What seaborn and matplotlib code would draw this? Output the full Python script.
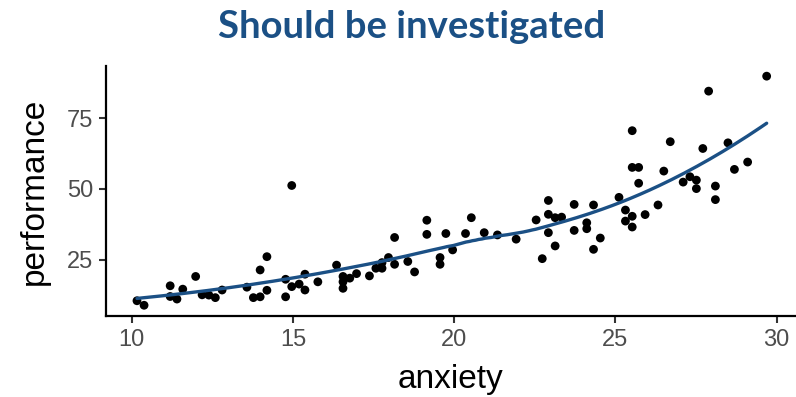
import numpy as np
import pandas as pd
import matplotlib
matplotlib.use("Agg")
import matplotlib.pyplot as plt
import seaborn as sns

anxiety = [14.96, 10.16, 10.38, 11.19, 11.19, 11.40, 11.58, 11.98, 12.18, 12.39,
           12.59, 12.80, 13.57, 13.77, 13.98, 13.98, 14.19, 14.19, 14.77, 14.77,
           14.96, 15.19, 15.37, 15.37, 15.77, 16.35, 16.55, 16.55, 16.55, 16.76,
           16.97, 17.37, 17.57, 17.76, 17.76, 17.96, 18.15, 18.15, 18.56, 18.77,
           19.15, 19.15, 19.56, 19.56, 19.74, 19.95, 20.35, 20.53, 20.93, 21.34,
           21.92, 22.54, 22.73, 22.92, 22.92, 22.92, 23.13, 23.13, 23.33, 23.72,
           23.72, 24.11, 24.11, 24.32, 24.32, 24.53, 25.11, 25.31, 25.31, 25.52,
           25.52, 25.52, 25.52, 25.72, 25.72, 25.92, 26.32, 26.50, 26.70, 27.10,
           27.31, 27.51, 27.51, 27.71, 27.89, 28.10, 28.10, 28.49, 28.69, 29.10,
           29.69]
performance = [51.2, 10.4, 8.8, 15.7, 11.9, 11.0, 14.5, 19.0, 12.5, 12.4,
               11.5, 14.2, 15.2, 11.5, 11.8, 21.3, 26.0, 14.1, 11.8, 18.0,
               15.4, 16.3, 19.8, 14.2, 17.1, 23.0, 19.0, 17.1, 14.8, 18.4,
               20.0, 19.2, 21.9, 21.9, 23.9, 25.7, 23.3, 32.8, 24.3, 20.6,
               38.9, 33.9, 25.7, 23.3, 34.2, 28.4, 34.2, 39.8, 34.5, 33.7,
               32.2, 39.0, 25.3, 45.9, 41.0, 34.5, 39.8, 29.8, 40.0, 44.5,
               35.3, 38.0, 35.9, 44.3, 28.6, 32.6, 47.0, 42.5, 38.6, 40.3,
               36.5, 70.6, 57.6, 57.6, 52.0, 40.9, 44.3, 56.3, 66.7, 52.4,
               54.3, 53.1, 50.1, 64.3, 84.6, 51.0, 46.2, 66.3, 56.9, 59.5,
               89.9]
x_ticks = [10, 15, 20, 25, 30]
y_ticks = [25, 50, 75]
title_text = "Should be investigated"

df = pd.DataFrame({"anxiety": anxiety, "performance": performance})

# loess smoother (span 0.75, local quadratic, tricube weights) like geom_smooth
xv = df["anxiety"].to_numpy()
yv = df["performance"].to_numpy()
grid = np.linspace(xv.min(), xv.max(), 200)
k = int(np.ceil(0.75 * len(xv)))
smooth = []
for g in grid:
    d = np.abs(xv - g)
    h = np.sort(d)[k - 1]
    w = np.clip(1 - (d / h) ** 3, 0, None) ** 3
    X = np.column_stack([np.ones_like(xv), xv - g, (xv - g) ** 2])
    W = np.sqrt(w)
    coef, *_ = np.linalg.lstsq(X * W[:, None], yv * W, rcond=None)
    smooth.append(coef[0])
fit = pd.DataFrame({"anxiety": grid, "performance": smooth})

sns.set_theme(style="ticks")
plt.rcParams["font.family"] = ["Liberation Sans", "DejaVu Sans"]

fig = plt.figure(figsize=(7.96, 3.97), dpi=100)
ax = fig.add_axes([105.7 / 796, 1 - 316 / 397, 1 - 105.7 / 796, (316 - 66) / 397])

sns.scatterplot(data=df, x="anxiety", y="performance", ax=ax, color="black",
                s=40, edgecolor="none", linewidth=0, zorder=2)
sns.lineplot(data=fit, x="anxiety", y="performance", ax=ax, color="#1B5085",
             linewidth=2.4, zorder=3)

ax.set_xlim(9.19, 30.6)
ax.set_ylim(5.0, 93.5)
ax.set_xticks(x_ticks)
ax.set_yticks(y_ticks)
ax.tick_params(axis="both", labelsize=17, labelcolor="#4D4D4D", color="#333333",
               length=5, width=1.5, pad=4)
for s in ["top", "right"]:
    ax.spines[s].set_visible(False)
for s in ["left", "bottom"]:
    ax.spines[s].set_linewidth(1.6)
    ax.spines[s].set_color("black")
ax.set_xlabel("anxiety", fontsize=24, color="black", labelpad=10)
ax.set_ylabel("performance", fontsize=24, color="black", labelpad=12)

fig.text(412 / 796, 1 - 38 / 397, title_text, ha="center", va="baseline",
         fontsize=27.5, fontweight="bold", color="#1B5085",
         family=["Lato", "DejaVu Sans"])

fig.savefig("out.png", dpi=100)
